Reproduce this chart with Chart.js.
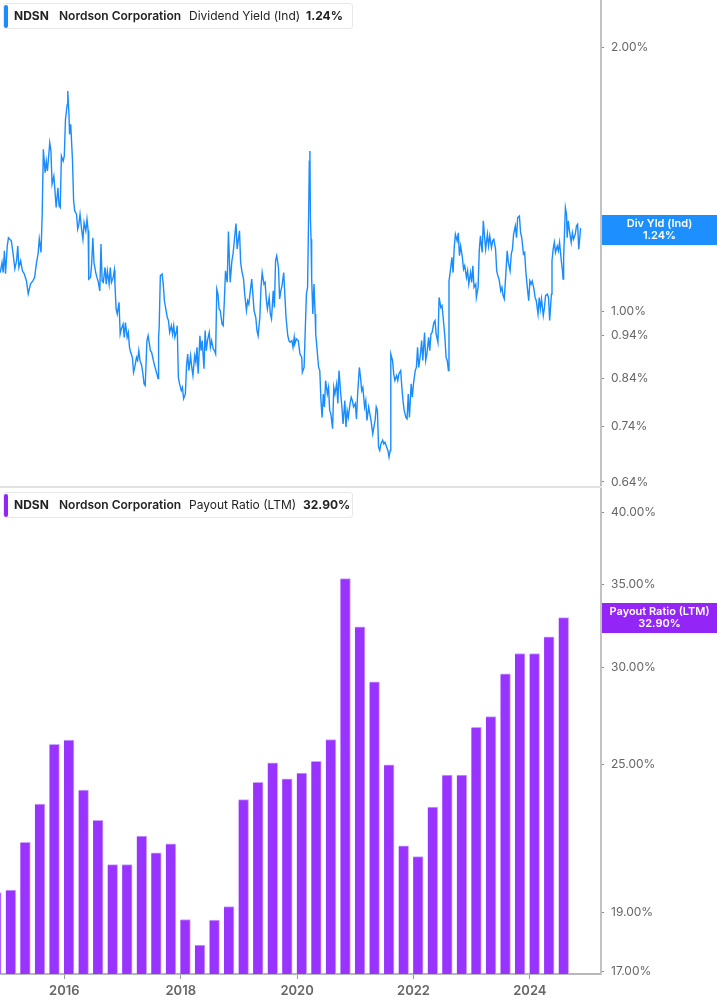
<!DOCTYPE html>
<html>
<head>
<meta charset="utf-8">
<script src="https://cdn.jsdelivr.net/npm/chart.js@4.4.1/dist/chart.umd.min.js"></script>
<style>
  html, body { margin: 0; padding: 0; background: #fff; }
  body { width: 717px; height: 1005px; position: relative; overflow: hidden; font-family: Inter, "Noto Sans", sans-serif; }
  canvas { position: absolute; left: 0; }
  #topChart { top: 0; }
  #botChart { top: 488px; }
  .sep { position: absolute; left: 0; top: 486px; width: 602px; height: 2px; background: #e2e2e2; }
  .legend { position: absolute; left: 3px; width: 350px; height: 26px; background: #fff;
            border: 1px solid #e8e8e8; border-radius: 3px; box-sizing: border-box; }
  .legend .bar { position: absolute; left: 0; top: 1px; width: 4px; height: 23px; border-radius: 2px; }
  .legend span { position: absolute; top: 5px; font-size: 12px; line-height: 14px; color: #222; white-space: nowrap; }
  .b { font-weight: 700; }
  .m { font-weight: 600; }
</style>
</head>
<body>
<canvas id="topChart" width="717" height="486"></canvas>
<div class="sep"></div>
<canvas id="botChart" width="717" height="517"></canvas>

<div class="legend" style="top:3px">
  <div class="bar" style="background:#1a8cff"></div>
  <span class="b" style="left:10px">NDSN</span>
  <span class="m" style="left:55px">Nordson Corporation</span>
  <span style="left:185px">Dividend Yield (Ind)</span>
  <span class="b" style="left:302px">1.24%</span>
</div>
<div class="legend" style="top:492px">
  <div class="bar" style="background:#9326f7"></div>
  <span class="b" style="left:10px">NDSN</span>
  <span class="m" style="left:55px">Nordson Corporation</span>
  <span style="left:185px">Payout Ratio (LTM)</span>
  <span class="b" style="left:299px">32.90%</span>
</div>

<script>
// ---------------- data ----------------
// shared time axis, decimal years
const X_MIN = 2014.895;
const X_MAX = 2025.222;
const yearTicks = [2016, 2018, 2020, 2022, 2024];

// dividend yield (%)
const yieldDates = [
  2014.90, 2014.93, 2014.95, 2014.97, 2014.99, 2015.02, 2015.04, 2015.09, 2015.12, 2015.15,
  2015.18, 2015.20, 2015.22, 2015.25, 2015.28, 2015.31, 2015.35, 2015.38, 2015.42, 2015.46,
  2015.49, 2015.52, 2015.55, 2015.57, 2015.60, 2015.62, 2015.64, 2015.67, 2015.69, 2015.71,
  2015.75, 2015.77, 2015.79, 2015.82, 2015.84, 2015.86, 2015.89, 2015.91, 2015.93, 2015.95,
  2015.98, 2016.00, 2016.02, 2016.05, 2016.06, 2016.08, 2016.09, 2016.11, 2016.14, 2016.16,
  2016.18, 2016.21, 2016.23, 2016.25, 2016.27, 2016.30, 2016.32, 2016.34, 2016.37, 2016.39,
  2016.41, 2016.42, 2016.45, 2016.47, 2016.49, 2016.51, 2016.54, 2016.56, 2016.58, 2016.61,
  2016.63, 2016.65, 2016.67, 2016.70, 2016.72, 2016.74, 2016.77, 2016.79, 2016.81, 2016.84,
  2016.86, 2016.87, 2016.89, 2016.91, 2016.94, 2016.96, 2016.98, 2017.01, 2017.03, 2017.05,
  2017.08, 2017.10, 2017.12, 2017.14, 2017.17, 2017.19, 2017.21, 2017.24, 2017.26, 2017.28,
  2017.30, 2017.33, 2017.35, 2017.37, 2017.39, 2017.42, 2017.44, 2017.48, 2017.50, 2017.53,
  2017.56, 2017.59, 2017.61, 2017.62, 2017.63, 2017.65, 2017.68, 2017.70, 2017.72, 2017.74,
  2017.77, 2017.79, 2017.81, 2017.84, 2017.86, 2017.88, 2017.90, 2017.93, 2017.94, 2017.96,
  2017.98, 2018.01, 2018.03, 2018.05, 2018.08, 2018.10, 2018.12, 2018.14, 2018.17, 2018.19,
  2018.21, 2018.24, 2018.26, 2018.28, 2018.30, 2018.33, 2018.35, 2018.37, 2018.40, 2018.42,
  2018.44, 2018.46, 2018.49, 2018.51, 2018.53, 2018.56, 2018.58, 2018.60, 2018.62, 2018.64,
  2018.66, 2018.68, 2018.71, 2018.73, 2018.75, 2018.77, 2018.80, 2018.82, 2018.85, 2018.88,
  2018.90, 2018.95, 2018.97, 2019.01, 2019.03, 2019.05, 2019.08, 2019.10, 2019.13, 2019.15,
  2019.17, 2019.20, 2019.22, 2019.24, 2019.26, 2019.29, 2019.31, 2019.33, 2019.36, 2019.38,
  2019.40, 2019.43, 2019.45, 2019.47, 2019.49, 2019.52, 2019.54, 2019.56, 2019.59, 2019.61,
  2019.63, 2019.65, 2019.68, 2019.70, 2019.72, 2019.74, 2019.77, 2019.79, 2019.81, 2019.84,
  2019.86, 2019.88, 2019.91, 2019.93, 2019.95, 2019.96, 2019.99, 2020.02, 2020.05, 2020.08,
  2020.09, 2020.12, 2020.14, 2020.16, 2020.18, 2020.20, 2020.21, 2020.22, 2020.23, 2020.24,
  2020.25, 2020.27, 2020.29, 2020.31, 2020.32, 2020.34, 2020.37, 2020.39, 2020.41, 2020.43,
  2020.45, 2020.47, 2020.49, 2020.52, 2020.54, 2020.56, 2020.58, 2020.61, 2020.63, 2020.65,
  2020.68, 2020.70, 2020.72, 2020.75, 2020.77, 2020.79, 2020.82, 2020.84, 2020.86, 2020.88,
  2020.91, 2020.93, 2020.95, 2020.97, 2021.00, 2021.02, 2021.04, 2021.07, 2021.09, 2021.11,
  2021.13, 2021.16, 2021.18, 2021.20, 2021.23, 2021.25, 2021.27, 2021.30, 2021.32, 2021.34,
  2021.36, 2021.38, 2021.40, 2021.42, 2021.44, 2021.47, 2021.49, 2021.51, 2021.54, 2021.56,
  2021.58, 2021.60, 2021.61, 2021.64, 2021.66, 2021.68, 2021.71, 2021.73, 2021.75, 2021.78,
  2021.80, 2021.82, 2021.84, 2021.87, 2021.89, 2021.91, 2021.93, 2021.96, 2021.98, 2022.00,
  2022.03, 2022.05, 2022.07, 2022.09, 2022.12, 2022.14, 2022.16, 2022.19, 2022.21, 2022.23,
  2022.26, 2022.28, 2022.30, 2022.32, 2022.35, 2022.37, 2022.39, 2022.42, 2022.44, 2022.47,
  2022.49, 2022.51, 2022.54, 2022.56, 2022.58, 2022.60, 2022.61, 2022.63, 2022.66, 2022.68,
  2022.70, 2022.72, 2022.75, 2022.77, 2022.79, 2022.81, 2022.84, 2022.86, 2022.88, 2022.91,
  2022.93, 2022.95, 2022.98, 2023.00, 2023.02, 2023.04, 2023.07, 2023.08, 2023.11, 2023.13,
  2023.15, 2023.18, 2023.20, 2023.22, 2023.24, 2023.27, 2023.29, 2023.31, 2023.34, 2023.36,
  2023.38, 2023.41, 2023.43, 2023.45, 2023.47, 2023.50, 2023.52, 2023.54, 2023.56, 2023.59,
  2023.61, 2023.63, 2023.66, 2023.68, 2023.70, 2023.72, 2023.75, 2023.77, 2023.79, 2023.82,
  2023.84, 2023.86, 2023.89, 2023.91, 2023.93, 2023.95, 2023.98, 2024.00, 2024.02, 2024.04,
  2024.07, 2024.09, 2024.11, 2024.14, 2024.16, 2024.18, 2024.20, 2024.23, 2024.25, 2024.27,
  2024.30, 2024.32, 2024.34, 2024.37, 2024.38, 2024.40, 2024.42, 2024.44, 2024.47, 2024.49,
  2024.51, 2024.54, 2024.56, 2024.57, 2024.58, 2024.61, 2024.63, 2024.64, 2024.66, 2024.68,
  2024.71, 2024.73, 2024.75, 2024.78, 2024.80, 2024.82, 2024.84, 2024.87, 2024.88
];
const yieldValues = [
  1.108, 1.138, 1.108, 1.173, 1.105, 1.188, 1.214, 1.204, 1.164, 1.119,
  1.143, 1.188, 1.123, 1.143, 1.113, 1.105, 1.084, 1.048, 1.076, 1.084,
  1.094, 1.134, 1.164, 1.210, 1.168, 1.292, 1.531, 1.440, 1.484, 1.446,
  1.557, 1.524, 1.398, 1.427, 1.372, 1.314, 1.384, 1.320, 1.314, 1.504,
  1.484, 1.504, 1.655, 1.722, 1.783, 1.677, 1.592, 1.634, 1.491, 1.337,
  1.302, 1.291, 1.242, 1.258, 1.291, 1.236, 1.209, 1.263, 1.236, 1.274,
  1.236, 1.089, 1.094, 1.133, 1.214, 1.138, 1.108, 1.094, 1.084, 1.056,
  1.194, 1.084, 1.080, 1.123, 1.075, 1.113, 1.075, 1.123, 1.080, 1.094,
  1.115, 1.075, 1.007, 0.994, 1.025, 0.943, 0.956, 0.968, 0.935, 0.972,
  0.935, 0.947, 0.911, 0.899, 0.887, 0.853, 0.864, 0.887, 0.880, 0.903,
  0.880, 0.868, 0.850, 0.828, 0.824, 0.927, 0.939, 0.903, 0.899, 0.880,
  0.864, 0.850, 0.839, 0.935, 0.960, 1.099, 1.104, 1.075, 1.029, 1.011,
  0.985, 0.977, 0.947, 0.964, 0.943, 0.964, 0.935, 0.952, 0.964, 0.842,
  0.828, 0.813, 0.820, 0.796, 0.806, 0.868, 0.895, 0.857, 0.891, 0.864,
  0.846, 0.891, 0.876, 0.911, 0.850, 0.939, 0.903, 0.927, 0.861, 0.952,
  0.903, 0.927, 0.947, 0.911, 0.927, 0.907, 0.903, 0.895, 1.061, 1.047,
  1.007, 1.003, 0.968, 0.964, 1.029, 1.113, 1.080, 1.234, 1.080, 1.143,
  1.164, 1.260, 1.179, 1.236, 1.138, 1.113, 1.089, 1.047, 1.003, 1.029,
  1.020, 1.061, 1.089, 1.047, 1.003, 0.985, 0.952, 0.939, 0.985, 1.066,
  1.108, 1.075, 1.080, 1.034, 1.007, 1.038, 0.994, 0.981, 1.056, 1.011,
  1.143, 1.158, 1.123, 1.034, 1.056, 1.070, 1.108, 1.043, 0.985, 0.939,
  0.927, 0.923, 0.927, 0.911, 0.935, 0.919, 0.931, 0.927, 0.895, 0.887,
  0.853, 0.864, 0.952, 1.047, 1.066, 1.314, 1.484, 1.524, 1.269, 1.209,
  1.094, 0.994, 1.075, 0.994, 0.943, 0.911, 0.864, 0.857, 0.792, 0.758,
  0.806, 0.779, 0.835, 0.806, 0.820, 0.772, 0.765, 0.736, 0.820, 0.806,
  0.828, 0.786, 0.857, 0.806, 0.779, 0.745, 0.792, 0.739, 0.772, 0.758,
  0.786, 0.799, 0.792, 0.779, 0.786, 0.755, 0.806, 0.864, 0.842, 0.813,
  0.820, 0.779, 0.792, 0.752, 0.779, 0.765, 0.752, 0.726, 0.739, 0.752,
  0.779, 0.772, 0.701, 0.695, 0.707, 0.714, 0.707, 0.710, 0.701, 0.695,
  0.683, 0.695, 0.895, 0.880, 0.850, 0.835, 0.846, 0.835, 0.850, 0.857,
  0.820, 0.792, 0.772, 0.758, 0.755, 0.806, 0.758, 0.828, 0.799, 0.828,
  0.857, 0.864, 0.911, 0.864, 0.895, 0.927, 0.880, 0.947, 0.880, 0.895,
  0.935, 0.903, 0.943, 0.947, 0.972, 0.977, 0.943, 0.923, 1.038, 1.011,
  1.016, 0.985, 0.935, 0.887, 0.880, 0.857, 1.084, 1.108, 1.153, 1.108,
  1.183, 1.225, 1.204, 1.230, 1.158, 1.188, 1.153, 1.118, 1.128, 1.094,
  1.113, 1.075, 1.108, 1.080, 1.128, 1.066, 1.075, 1.038, 1.066, 1.173,
  1.220, 1.168, 1.269, 1.220, 1.178, 1.225, 1.188, 1.220, 1.183, 1.204,
  1.209, 1.178, 1.113, 1.099, 1.089, 1.056, 1.066, 1.043, 1.034, 1.113,
  1.173, 1.138, 1.113, 1.163, 1.178, 1.225, 1.252, 1.214, 1.280, 1.285,
  1.230, 1.214, 1.163, 1.168, 1.113, 1.075, 1.029, 1.084, 1.075, 1.084,
  1.061, 1.038, 1.029, 0.994, 1.038, 1.007, 1.034, 0.990, 1.011, 1.043,
  1.047, 1.038, 0.977, 1.047, 1.143, 1.178, 1.199, 1.168, 1.188, 1.173,
  1.199, 1.143, 1.113, 1.089, 1.153, 1.314, 1.291, 1.214, 1.269, 1.236,
  1.199, 1.230, 1.209, 1.225, 1.252, 1.258, 1.178, 1.242, 1.240
];
const yieldTicks = [0.64, 0.74, 0.84, 0.94, 1.00, 2.00];
const YIELD_MIN = 0.6332;
const YIELD_MAX = 2.264;

// payout ratio LTM (%), fiscal quarter ends (Jan/Apr/Jul/Oct)
const payoutDates = [
  2014.83, 2015.08, 2015.33, 2015.58, 2015.83, 2016.08, 2016.33, 2016.58, 2016.83, 2017.08,
  2017.33, 2017.58, 2017.83, 2018.08, 2018.33, 2018.58, 2018.83, 2019.08, 2019.33, 2019.58,
  2019.83, 2020.08, 2020.33, 2020.58, 2020.83, 2021.08, 2021.33, 2021.58, 2021.83, 2022.08,
  2022.33, 2022.58, 2022.83, 2023.08, 2023.33, 2023.58, 2023.83, 2024.08, 2024.33, 2024.58
];
const payoutValues = [
  19.70, 19.80, 21.64, 23.24, 25.97, 26.18, 23.85, 22.55, 20.76, 20.76,
  21.89, 21.22, 21.58, 18.74, 17.87, 18.72, 19.20, 23.43, 24.20, 25.10,
  24.36, 24.62, 25.17, 26.21, 35.38, 32.33, 29.18, 25.00, 21.50, 21.07,
  23.11, 24.53, 24.53, 26.81, 27.36, 29.63, 30.77, 30.77, 31.74, 32.90
];
const payoutTicks = [17, 19, 25, 30, 35, 40];
const PAYOUT_MIN = 16.93;
const PAYOUT_MAX = 41.885;

// ---------------- helpers ----------------
const AXIS_W = 116;
const FONT = 'Inter, "Noto Sans", sans-serif';

function fixedTicks(values) {
  return scale => { scale.ticks = values.map(v => ({ value: v })); };
}

function rightAxis(min, max, ticks) {
  return {
    type: 'logarithmic',
    position: 'right',
    bounds: 'data',
    min, max,
    afterBuildTicks: fixedTicks(ticks),
    afterFit: s => { s.width = AXIS_W; s.paddingTop = 0; s.paddingBottom = 0; },
    border: { display: true, color: '#c2c2c2', width: 2 },
    grid:   { drawOnChartArea: false, drawTicks: true, tickLength: 3, color: '#8a8a8a' },
    ticks:  {
      color: '#666', padding: 7,
      font: { family: FONT, size: 12 },
      callback: v => v.toFixed(2) + '%',
    },
  };
}

// last-value tag on the right axis
function valueTag(label, value, color) {
  return {
    id: 'tag',
    afterDraw(chart) {
      const { ctx, chartArea } = chart;
      const y = chart.scales.y.getPixelForValue(value);
      const x0 = chartArea.right + 1;
      const w = chart.width - x0;
      ctx.save();
      ctx.fillStyle = color;
      ctx.fillRect(x0, Math.round(y - 15), w, 30);
      ctx.fillStyle = '#fff';
      ctx.font = '600 11px ' + FONT;
      ctx.textAlign = 'center';
      ctx.textBaseline = 'middle';
      ctx.fillText(label, x0 + w / 2, y - 6);
      ctx.fillText(value.toFixed(2) + '%', x0 + w / 2, y + 6);
      ctx.restore();
    },
  };
}

const common = {
  responsive: false,
  animation: false,
  devicePixelRatio: 1,
  layout: { padding: 0 },
  plugins: { legend: { display: false }, tooltip: { enabled: false } },
};

// ---------------- top: dividend yield ----------------
new Chart(document.getElementById('topChart'), {
  type: 'line',
  data: {
    datasets: [{
      data: yieldDates.map((d, i) => ({ x: d, y: yieldValues[i] })),
      borderColor: '#1a8cff',
      borderWidth: 1.4,
      pointRadius: 0,
      tension: 0,
    }],
  },
  options: {
    ...common,
    scales: {
      x: { type: 'linear', min: X_MIN, max: X_MAX, bounds: 'data', display: false },
      y: rightAxis(YIELD_MIN, YIELD_MAX, yieldTicks),
    },
  },
  plugins: [valueTag('Div Yld (Ind)', yieldValues[yieldValues.length - 1], '#1e8fff')],
});

// ---------------- bottom: payout ratio ----------------
new Chart(document.getElementById('botChart'), {
  type: 'bar',
  data: {
    datasets: [{
      data: payoutDates.map((d, i) => ({ x: d, y: payoutValues[i] })),
      backgroundColor: '#9933ff',
      borderColor: '#c9a3ff',
      borderWidth: { top: 1, right: 1, left: 0, bottom: 0 },
      barThickness: 10,
    }],
  },
  options: {
    ...common,
    scales: {
      x: {
        type: 'linear',
        min: X_MIN, max: X_MAX,
        bounds: 'data',
        offset: false,
        afterBuildTicks: fixedTicks(yearTicks),
        afterFit: s => { s.height = 31; s.paddingLeft = 0; s.paddingRight = 0; },
        border: { display: true, color: '#b8b8b8', width: 2 },
        grid:   { offset: false, drawOnChartArea: false, drawTicks: true, tickLength: 5, color: '#999' },
        ticks:  {
          color: '#666', padding: 4, maxRotation: 0,
          font: { family: FONT, size: 13, weight: '600' },
          callback: v => String(v),
        },
      },
      y: rightAxis(PAYOUT_MIN, PAYOUT_MAX, payoutTicks),
    },
  },
  plugins: [valueTag('Payout Ratio (LTM)', payoutValues[payoutValues.length - 1], '#9326f7')],
});
</script>
</body>
</html>
